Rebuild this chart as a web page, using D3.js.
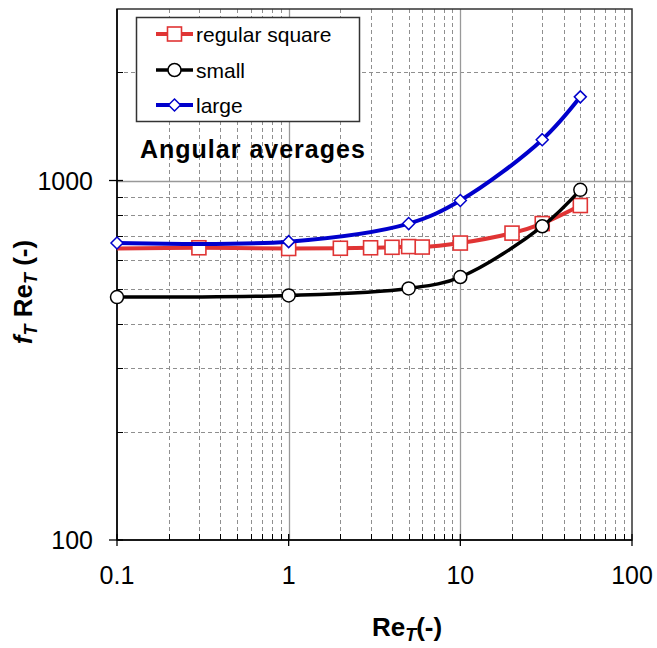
<!DOCTYPE html>
<html>
<head>
<meta charset="utf-8">
<script src="https://cdn.jsdelivr.net/npm/d3@7"></script>
<style>
  body { margin: 0; background: #fff; }
  svg text { font-family: "Liberation Sans", Arial, sans-serif; }
</style>
</head>
<body>
<svg width="657" height="648"></svg>
<script>
// data
var squareRe = [0.1, 0.3, 1, 2, 3, 4, 5, 6, 10, 20, 30, 50];
var squareF  = [647, 650, 647, 648, 650, 652, 655, 653, 670, 714, 759, 852];
var squareNoMarker = [0.1];
var smallRe = [0.1, 1, 5, 10, 30, 50];
var smallF  = [474, 479, 501, 539, 746, 942];
var largeRe = [0.1, 1, 5, 10, 30, 50];
var largeF  = [670, 676, 759, 880, 1299, 1709];
var xTicks = [0.1, 1, 10, 100];
var yTicks = [100, 1000];
var legendLabels = ["regular square", "small", "large"];

function draw() {
  var svg = d3.select("svg");
  var pl = 117, pr = 632, pt = 9, pb = 540;

  var x = d3.scaleLog().domain([0.1, 100]).range([pl, pr]);
  var y = d3.scaleLog().domain([100, 3000]).range([pb, pt]);

  // minor values for grid
  var xMinor = [], yMinor = [];
  [0.1, 1, 10].forEach(function(d) {
    for (var k = 2; k <= 9; k++) xMinor.push(d * k);
  });
  [100, 1000].forEach(function(d) {
    for (var k = 2; k <= 9; k++) if (d * k < 3000) yMinor.push(d * k);
  });
  function px(v) { return Math.round(x(v)) + 0.5; }
  function py(v) { return Math.round(y(v)) + 0.5; }

  var grid = svg.append("g");
  grid.selectAll(".vx").data(xMinor).enter().append("line")
    .attr("x1", px).attr("x2", px)
    .attr("y1", pt).attr("y2", pb)
    .attr("stroke", "#8f8f8f").attr("stroke-dasharray", "4,3");
  grid.selectAll(".hy").data(yMinor).enter().append("line")
    .attr("y1", py).attr("y2", py)
    .attr("x1", pl).attr("x2", pr)
    .attr("stroke", "#8f8f8f").attr("stroke-dasharray", "4,3");
  // major grid
  grid.selectAll(".mx").data([1, 10]).enter().append("line")
    .attr("x1", px).attr("x2", px)
    .attr("y1", pt).attr("y2", pb)
    .attr("stroke", "#999").attr("stroke-width", 1.3);
  grid.selectAll(".my").data([1000]).enter().append("line")
    .attr("y1", py).attr("y2", py)
    .attr("x1", pl).attr("x2", pr)
    .attr("stroke", "#999").attr("stroke-width", 1.3);

  // frame
  svg.append("rect")
    .attr("x", pl).attr("y", pt)
    .attr("width", pr - pl).attr("height", pb - pt)
    .attr("fill", "none").attr("stroke", "#333").attr("stroke-width", 1.5);

  // axes
  var xAxis = svg.append("g").attr("transform", "translate(0," + pb + ")");
  xAxis.append("line").attr("x1", pl).attr("x2", pr)
    .attr("stroke", "#000").attr("stroke-width", 1.5);
  xAxis.selectAll(".tk").data(xTicks).enter().append("line")
    .attr("x1", x).attr("x2", x)
    .attr("y1", -6).attr("y2", 6).attr("stroke", "#000").attr("stroke-width", 1.3);
  xAxis.selectAll(".mt").data(xMinor).enter().append("line")
    .attr("x1", px).attr("x2", px)
    .attr("y1", -6).attr("y2", 0).attr("stroke", "#000");
  xAxis.selectAll("text").data(xTicks).enter().append("text")
    .attr("x", x).attr("y", 44)
    .attr("text-anchor", "middle").attr("font-size", 25)
    .text(function(d) { return d3.format("")(d); });

  var yAxis = svg.append("g").attr("transform", "translate(" + pl + ",0)");
  yAxis.append("line").attr("y1", pt).attr("y2", pb)
    .attr("stroke", "#000").attr("stroke-width", 1.5);
  yAxis.selectAll(".tk").data(yTicks).enter().append("line")
    .attr("y1", y).attr("y2", y)
    .attr("x1", -8).attr("x2", 6).attr("stroke", "#000").attr("stroke-width", 1.3);
  yAxis.selectAll(".mt").data(yMinor).enter().append("line")
    .attr("y1", py).attr("y2", py)
    .attr("x1", 0).attr("x2", 6).attr("stroke", "#000");
  yAxis.selectAll("text").data(yTicks).enter().append("text")
    .attr("x", -24).attr("y", y)
    .attr("dy", "0.36em")
    .attr("text-anchor", "end").attr("font-size", 25)
    .text(function(d) { return d; });

  // axis titles
  var xt = svg.append("text").attr("x", 407).attr("y", 636)
    .attr("text-anchor", "middle").attr("font-size", 26).attr("font-weight", "bold");
  xt.append("tspan").text("Re");
  xt.append("tspan").attr("font-size", 18).attr("font-style", "italic").attr("dy", 5).text("T");
  xt.append("tspan").attr("dy", -5).text("(-)");

  var yt = svg.append("text").attr("transform", "translate(32,292) rotate(-90)")
    .attr("text-anchor", "middle").attr("font-size", 26).attr("font-weight", "bold");
  yt.append("tspan").attr("font-style", "italic").text("f");
  yt.append("tspan").attr("font-size", 18).attr("font-style", "italic").attr("dy", 5).text("T");
  yt.append("tspan").attr("dy", -5).text(" Re");
  yt.append("tspan").attr("font-size", 18).attr("font-style", "italic").attr("dy", 5).text("T");
  yt.append("tspan").attr("dy", -5).text(" (-)");

  // series
  var series = [
    { name: legendLabels[0], re: squareRe, f: squareF, color: "#e03434", width: 4, shape: "square", skip: squareNoMarker },
    { name: legendLabels[1], re: smallRe, f: smallF, color: "#000000", width: 3.5, shape: "circle", skip: [] },
    { name: legendLabels[2], re: largeRe, f: largeF, color: "#0000cc", width: 4, shape: "diamond", skip: [] }
  ];

  var line = d3.line().curve(d3.curveCatmullRom.alpha(0.5));

  function drawMarker(g, s, cx, cy) {
    if (s.shape == "square") {
      g.append("rect").attr("x", cx - 7).attr("y", cy - 7).attr("width", 14).attr("height", 14)
        .attr("fill", "#fff").attr("stroke", s.color).attr("stroke-width", 1.6);
    } else if (s.shape == "circle") {
      g.append("circle").attr("cx", cx).attr("cy", cy).attr("r", 6.5)
        .attr("fill", "#fff").attr("stroke", s.color).attr("stroke-width", 1.5);
    } else {
      g.append("path")
        .attr("d", "M" + cx + "," + (cy - 6) + "L" + (cx + 6) + "," + cy + "L" + cx + "," + (cy + 6) + "L" + (cx - 6) + "," + cy + "Z")
        .attr("fill", "#fff").attr("stroke", s.color).attr("stroke-width", 1.5);
    }
  }

  series.forEach(function(s) {
    var g = svg.append("g");
    var pts = s.re.map(function(r, i) { return [x(r), y(s.f[i])]; });
    g.append("path").attr("d", line(pts))
      .attr("fill", "none").attr("stroke", s.color).attr("stroke-width", s.width);
    s.re.forEach(function(r, i) {
      if (s.skip.indexOf(r) >= 0) return;
      drawMarker(g, s, x(r), y(s.f[i]));
    });
  });

  // legend
  var lg = svg.append("g");
  lg.append("rect").attr("x", 136.5).attr("y", 17.5).attr("width", 223).attr("height", 104)
    .attr("fill", "#fff").attr("stroke", "#333").attr("stroke-width", 1.5);
  var rows = [34, 70, 105];
  series.forEach(function(s, i) {
    var cy = rows[i];
    lg.append("line").attr("x1", 156).attr("x2", 193).attr("y1", cy).attr("y2", cy)
      .attr("stroke", s.color).attr("stroke-width", s.width);
    drawMarker(lg, s, 174.5, cy);
    lg.append("text").attr("x", 196).attr("y", cy + 7.5).attr("font-size", 21).text(s.name);
  });

  // annotation
  svg.append("text").attr("x", 140).attr("y", 158)
    .attr("font-size", 25).attr("font-weight", "bold").attr("letter-spacing", 1)
    .text("Angular averages");
}
draw();
</script>
</body>
</html>
